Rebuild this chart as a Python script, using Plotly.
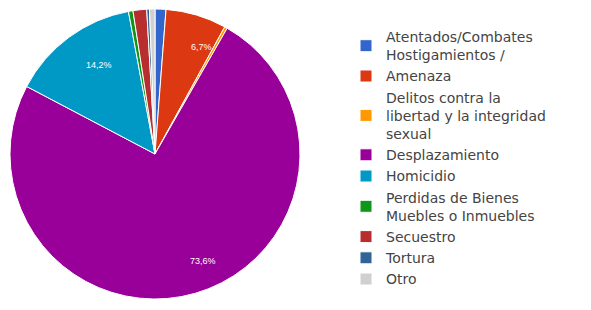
import numpy as np
import plotly.graph_objects as go

categories = [
    "Atentados/Combates<br>Hostigamientos /",
    "Amenaza",
    "Delitos contra la<br>libertad y la integridad<br>sexual",
    "Desplazamiento",
    "Homicidio",
    "Perdidas de Bienes<br>Muebles o Inmuebles",
    "Secuestro",
    "Tortura",
    "Otro",
]
values = [1.2, 6.7, 0.3, 73.6, 14.2, 0.5, 1.5, 0.3, 0.6]
slice_labels = ["", "6,7%", "", "73,6%", "14,2%", "", "", "", ""]
colors = ["#3366cc", "#dc3912", "#ff9900", "#990099", "#0099c6",
          "#109618", "#b82e2e", "#316395", "#d0d0d0"]

W, H = 591, 310
dom_x = [2 / W, 292 / W]
dom_y = [19 / H, 309 / H]

fig = go.Figure(go.Pie(
    labels=categories,
    values=values,
    textinfo="none",
    sort=False,
    direction="clockwise",
    rotation=0,
    marker=dict(colors=colors, line=dict(color="white", width=1)),
    domain=dict(x=dom_x, y=dom_y),
    hoverinfo="label+percent",
))

# place percentage labels at ~0.82 of the radius, on each slice's mid-angle
vals = np.array(values, dtype=float)
frac = vals / vals.sum()
mid = np.cumsum(frac) - frac / 2
theta = mid * 2 * np.pi
cx = (dom_x[0] + dom_x[1]) / 2
cy = (dom_y[0] + dom_y[1]) / 2
r_px = min((dom_x[1] - dom_x[0]) * W, (dom_y[1] - dom_y[0]) * H) / 2 * 0.82
for lab, th in zip(slice_labels, theta):
    if not lab:
        continue
    fig.add_annotation(
        x=cx + r_px * np.sin(th) / W,
        y=cy + r_px * np.cos(th) / H,
        xref="paper", yref="paper", text=lab, showarrow=False,
        font=dict(color="white", size=9, family="Liberation Sans"),
    )

fig.update_layout(
    width=W, height=H,
    margin=dict(l=0, r=0, t=0, b=0),
    paper_bgcolor="white",
    font=dict(family="DejaVu Sans", color="#444444"),
    legend=dict(
        x=338 / W, y=1 - 13 / H, xanchor="left", yanchor="top",
        font=dict(size=14, color="#444444", family="DejaVu Sans"),
        itemwidth=30, tracegroupgap=0,
        bgcolor="rgba(0,0,0,0)",
    ),
)

fig.write_html("out.html")
